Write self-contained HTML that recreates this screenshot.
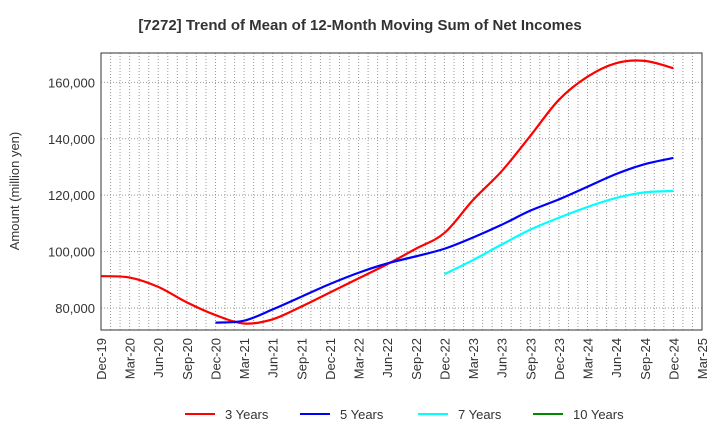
<!DOCTYPE html>
<html><head><meta charset="utf-8"><style>body{margin:0;background:#fff}svg{display:block;font-family:"Liberation Sans",Arial,sans-serif}</style></head>
<body>
<svg id="c" width="720" height="440"></svg>
<script>
const categories=["Dec-19","Mar-20","Jun-20","Sep-20","Dec-20","Mar-21","Jun-21","Sep-21","Dec-21","Mar-22","Jun-22","Sep-22","Dec-22","Mar-23","Jun-23","Sep-23","Dec-23","Mar-24","Jun-24","Sep-24","Dec-24","Mar-25"];
const yTicks=[80000,100000,120000,140000,160000];
const series3=[91300,90800,87500,82000,77500,74500,76000,80500,85500,90500,95500,101000,106600,118300,128500,141000,153800,162000,166800,167600,165000];
const series5=[null,null,null,null,74800,75500,79500,84000,88500,92500,95800,98300,101000,105000,109500,114500,118500,123000,127500,131000,133200];
const series7=[null,null,null,null,null,null,null,null,null,null,null,null,92000,97000,102500,107800,112000,115800,119000,121000,121500];
const series10=[];
const L=101,R=702,T=53,B=330,yMin=72200,yMax=170400;
const NS="http://www.w3.org/2000/svg",svg=document.getElementById('c');
function X(i){return L+(R-L)*i/(categories.length-1);}
function Y(v){return B-(v-yMin)/(yMax-yMin)*(B-T);}
function el(t,a,p){const e=document.createElementNS(NS,t);for(const k in a)e.setAttribute(k,a[k]);(p||svg).appendChild(e);return e;}
const title=el('text',{x:360,y:30,'text-anchor':'middle','font-size':15,'font-weight':'bold',fill:'#333'});title.textContent="[7272]  Trend of Mean of 12-Month Moving Sum of Net Incomes";


const g=el('g',{});


for(let m=1;m<(categories.length-1)*3;m++){const x=L+(R-L)*m/((categories.length-1)*3);el('line',{x1:x,x2:x,y1:T,y2:B,stroke:'#999','stroke-width':1,'stroke-dasharray':'1,2'},g);}
yTicks.forEach(v=>{el('line',{x1:L,x2:R,y1:Y(v),y2:Y(v),stroke:'#999','stroke-dasharray':'1,2'},g);
const t=el('text',{x:L-6,y:Y(v)+5,'text-anchor':'end','font-size':13,fill:'#333'});t.textContent=v.toLocaleString('en-US');

});
const frame=el('rect',{x:L,y:T,width:R-L,height:B-T,fill:'none',stroke:'#333'});


categories.forEach((c,i)=>{const t=el('text',{transform:`translate(${X(i)+5},${B+8}) rotate(-90)`,'text-anchor':'end','font-size':13,fill:'#333'});t.textContent=c;

});
const yt=el('text',{transform:'translate(19,191) rotate(-90)','text-anchor':'middle','font-size':13,fill:'#333'});yt.textContent="Amount (million yen)";


function path(data,color,name){const p=[];data.forEach((v,i)=>{if(v!=null)p.push([X(i),Y(v)]);});if(p.length<2)return;
let d=`M${p[0][0]},${p[0][1]}`;for(let i=0;i<p.length-1;i++){const p0=p[i-1]||p[i],p1=p[i],p2=p[i+1],p3=p[i+2]||p2;
d+=` C${p1[0]+(p2[0]-p0[0])/6},${p1[1]+(p2[1]-p0[1])/6} ${p2[0]-(p3[0]-p1[0])/6},${p2[1]-(p3[1]-p1[1])/6} ${p2[0]},${p2[1]}`;}
const e=el('path',{d,fill:'none',stroke:color,'stroke-width':2.2});

}
path(series3,'#f00','line-3-years');path(series5,'#00f','line-5-years');path(series7,'#0ff','line-7-years');path(series10,'#080','line-10-years');
[["3 Years","#f00",185],["5 Years","#00f",300],["7 Years","#0ff",418],["10 Years","#080",533]].forEach(([n,c,x])=>{
const lg=el('g',{});


el('line',{x1:x,x2:x+30,y1:414,y2:414,stroke:c,'stroke-width':2},lg);
const t=el('text',{x:x+40,y:419,'font-size':13,fill:'#333'},lg);t.textContent=n;});
</script>
</body></html>
